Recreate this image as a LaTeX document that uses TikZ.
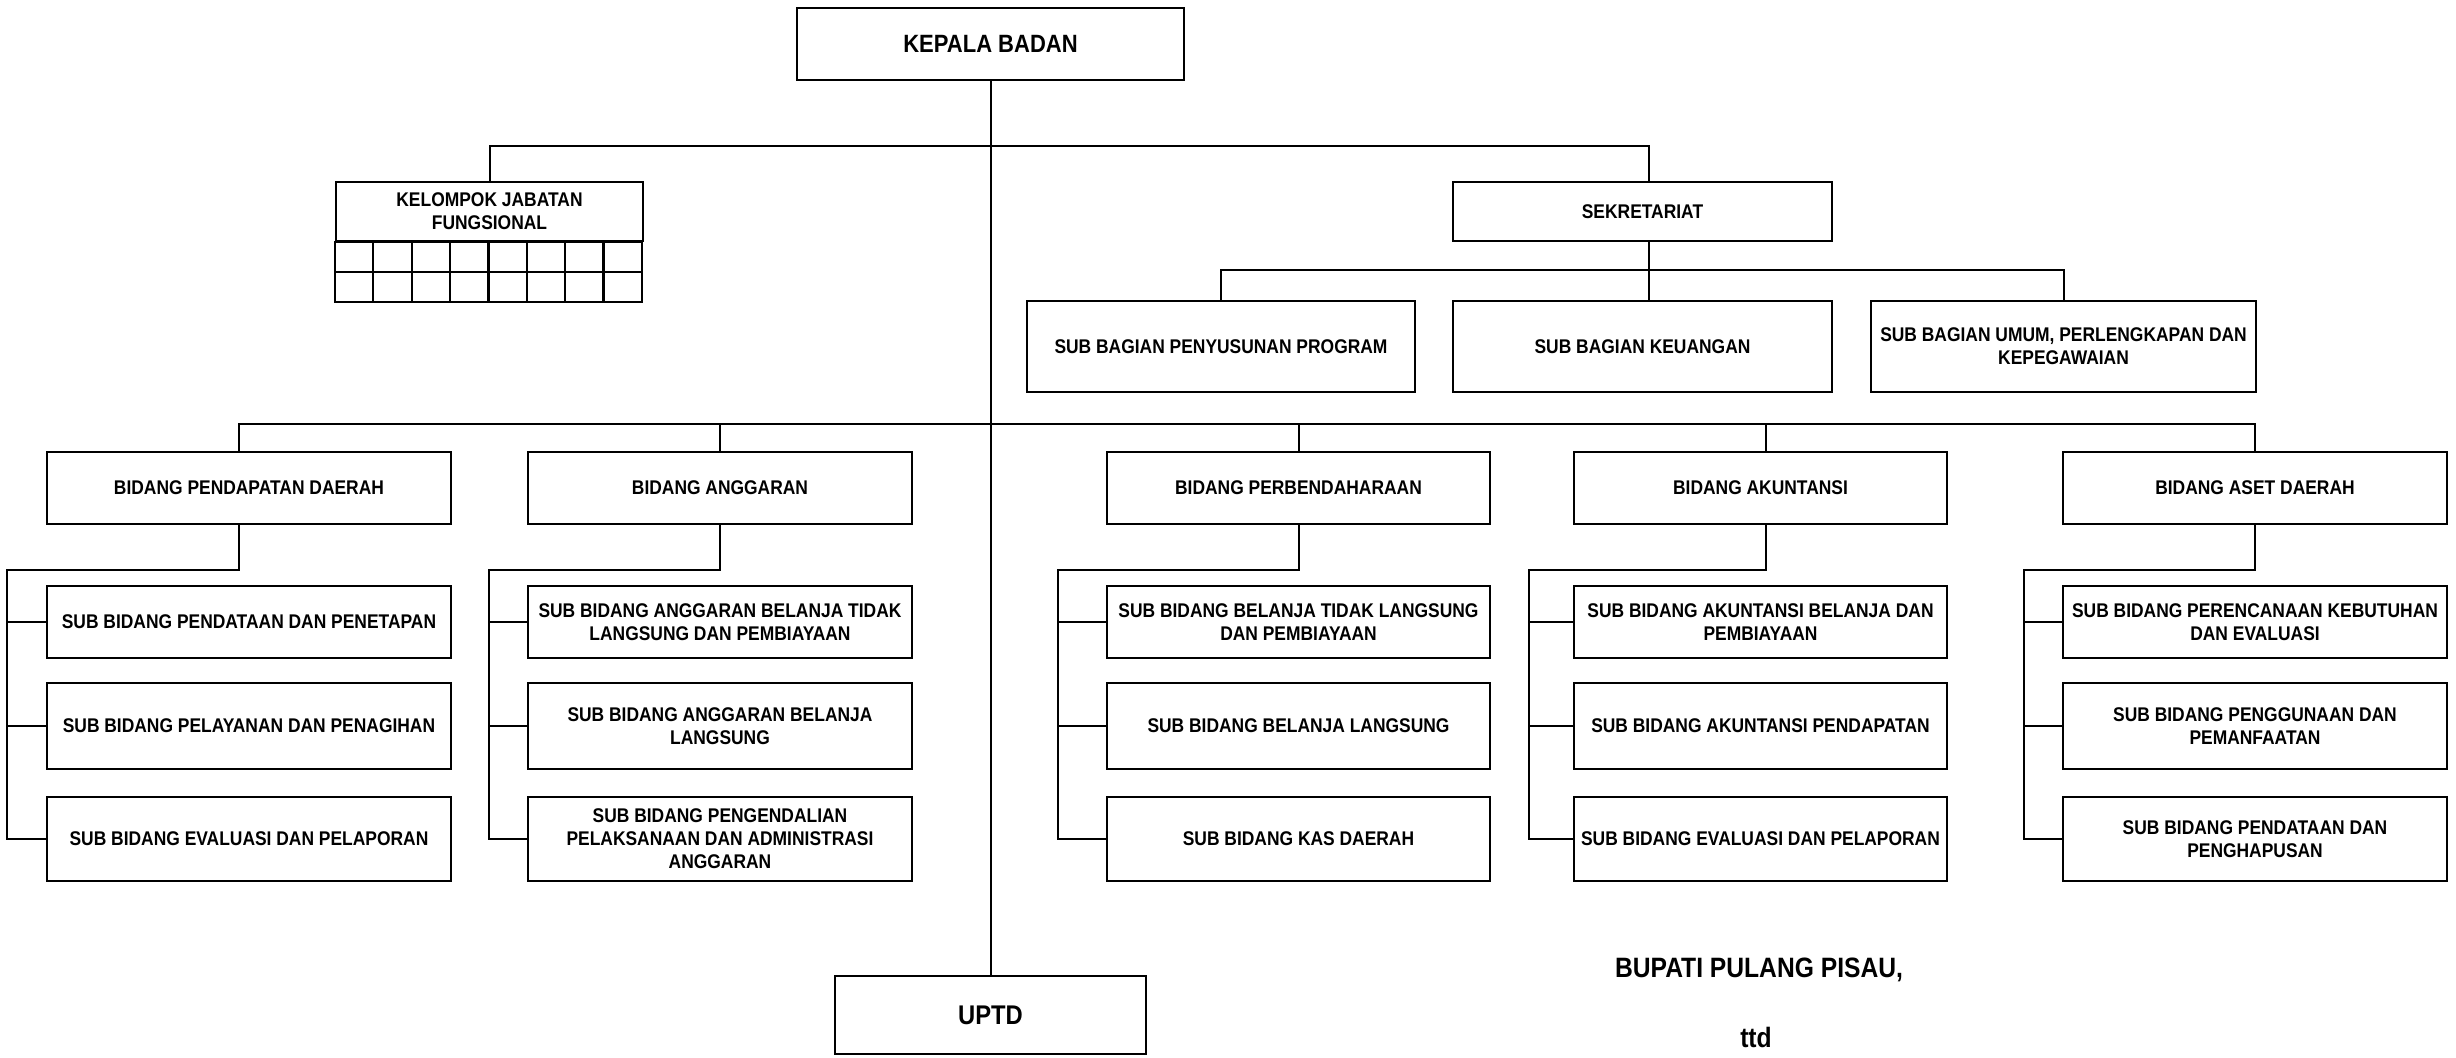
\documentclass[tikz,border=0pt]{standalone}
\usepackage{fontspec}
\setmainfont{Liberation Sans}[FakeStretch=0.88]
\tikzset{
  unit/.style={
    % The shape:
    rectangle,
    % The border:
    draw, line width=1.1pt,
    % padding around the text
    inner sep=0pt,
    % Font
    font=\bfseries\fontsize{9.9}{11.5}\selectfont,
    align=center
  },
  box/.style 2 args={unit, minimum width=#1, minimum height=#2},
  link/.style={line width=1pt},
  bigtext/.style={font=\bfseries\fontsize{#1}{#1}\selectfont}
}

\begin{document}
\begin{tikzpicture}[x=0.5pt, y=-0.5pt]

  \useasboundingbox (0,0) rectangle (2456,1057);

  % top
  \node (kepala) [box={193.5pt}{36pt}, bigtext=12.5] at (990.5,44) {KEPALA BADAN};
  \node (kelompok) [box={153.5pt}{29.5pt}] at (489.5,211.5) {KELOMPOK JABATAN\\FUNGSIONAL};
  \node (sekre) [box={189.5pt}{29.5pt}] at (1642.5,211.5) {SEKRETARIAT};

  % the empty grid under kelompok jabatan fungsional
  \draw [line width=1.1pt] (kelompok.south west) rectangle ++(307,60);
  \draw [line width=1.1pt] (kelompok.south west) ++(0,30) -- ++(307,0);
  \foreach \c in {1,...,7}
    \draw [line width=1.1pt] ([xshift=\c*19.1875pt]kelompok.south west) -- ++(0,60);

  % sub bagian
  \node (penyusunan) [box={194pt}{45.5pt}] at (1221,346.5) {SUB BAGIAN PENYUSUNAN PROGRAM};
  \node (keuangan) [box={189.5pt}{45.5pt}] at (1642.5,346.5) {SUB BAGIAN KEUANGAN};
  \node (umum) [box={192.5pt}{45.5pt}] at (2063.5,346.5) {SUB BAGIAN UMUM, PERLENGKAPAN DAN\\KEPEGAWAIAN};

  % bidang
  \node (pend) [box={202pt}{36pt}] at (249,488) {BIDANG PENDAPATAN DAERAH};
  \node (angg) [box={192pt}{36pt}] at (720,488) {BIDANG ANGGARAN};
  \node (perb) [box={191.5pt}{36pt}] at (1298.5,488) {BIDANG PERBENDAHARAAN};
  \node (akun) [box={186.5pt}{36pt}] at (1760.5,488) {BIDANG AKUNTANSI};
  \node (aset) [box={192pt}{36pt}] at (2255,488) {BIDANG ASET DAERAH};

  % sub bidang
  \node (pend1) [box={202pt}{36pt}] at (249,622) {SUB BIDANG PENDATAAN DAN PENETAPAN};
  \node (pend2) [box={202pt}{43pt}] at (249,726) {SUB BIDANG PELAYANAN DAN PENAGIHAN};
  \node (pend3) [box={202pt}{42pt}] at (249,839) {SUB BIDANG EVALUASI DAN PELAPORAN};

  \node (angg1) [box={192pt}{36pt}] at (720,622) {SUB BIDANG ANGGARAN BELANJA TIDAK\\LANGSUNG DAN PEMBIAYAAN};
  \node (angg2) [box={192pt}{43pt}] at (720,726) {SUB BIDANG ANGGARAN BELANJA\\LANGSUNG};
  \node (angg3) [box={192pt}{42pt}] at (720,839) {SUB BIDANG PENGENDALIAN\\PELAKSANAAN DAN ADMINISTRASI\\ANGGARAN};

  \node (perb1) [box={191.5pt}{36pt}] at (1298.5,622) {SUB BIDANG BELANJA TIDAK LANGSUNG\\DAN PEMBIAYAAN};
  \node (perb2) [box={191.5pt}{43pt}] at (1298.5,726) {SUB BIDANG BELANJA LANGSUNG};
  \node (perb3) [box={191.5pt}{42pt}] at (1298.5,839) {SUB BIDANG KAS DAERAH};

  \node (akun1) [box={186.5pt}{36pt}] at (1760.5,622) {SUB BIDANG AKUNTANSI BELANJA DAN\\PEMBIAYAAN};
  \node (akun2) [box={186.5pt}{43pt}] at (1760.5,726) {SUB BIDANG AKUNTANSI PENDAPATAN};
  \node (akun3) [box={186.5pt}{42pt}] at (1760.5,839) {SUB BIDANG EVALUASI DAN PELAPORAN};

  \node (aset1) [box={192pt}{36pt}] at (2255,622) {SUB BIDANG PERENCANAAN KEBUTUHAN\\DAN EVALUASI};
  \node (aset2) [box={192pt}{43pt}] at (2255,726) {SUB BIDANG PENGGUNAAN DAN\\PEMANFAATAN};
  \node (aset3) [box={192pt}{42pt}] at (2255,839) {SUB BIDANG PENDATAAN DAN\\PENGHAPUSAN};

  \node (uptd) [box={155.5pt}{39pt}, bigtext=13.5] at (990.5,1015) {UPTD};

  \node (bupati) [bigtext=14] at (1759,970) {BUPATI PULANG PISAU,};
  \node (ttd) [bigtext=14] at (1756,1037) {ttd};

  % connectors
  \draw [link] (kepala.south) -- (uptd.north);

  \coordinate (top bus) at (990.5,146);
  \draw [link] (kelompok.north) |- (top bus) -| ([xshift=3.25pt]sekre.north);

  \coordinate (sekre bus) at (1649,270);
  \draw [link] ([xshift=3.25pt]sekre.south) -- (sekre bus);
  \draw [link] (penyusunan.north) |- (sekre bus) -| (umum.north);
  \draw [link] (sekre bus) -- (sekre bus |- keuangan.north);

  \coordinate (bidang bus) at (990.5,424);
  \draw [link] ([xshift=-5pt]pend.north) |- (bidang bus) -| (aset.north);
  \foreach \b/\s in {angg/0, perb/0, akun/2.75}
    \draw [link] ([xshift=\s pt]\b.north) -- ([xshift=\s pt]\b.north |- bidang bus);

  \foreach \b/\l/\s in {pend/7/-5, angg/489/0, perb/1058/0, akun/1529/2.75, aset/2024/0} {
    \coordinate (\b rail) at (\l,570);
    \draw [link] ([xshift=\s pt]\b.south) |- (\b rail) |- (\b3.west);
    \foreach \i in {1,2}
      \draw [link] (\b rail |- \b\i.west) -- (\b\i.west);
  }

\end{tikzpicture}
\end{document}
